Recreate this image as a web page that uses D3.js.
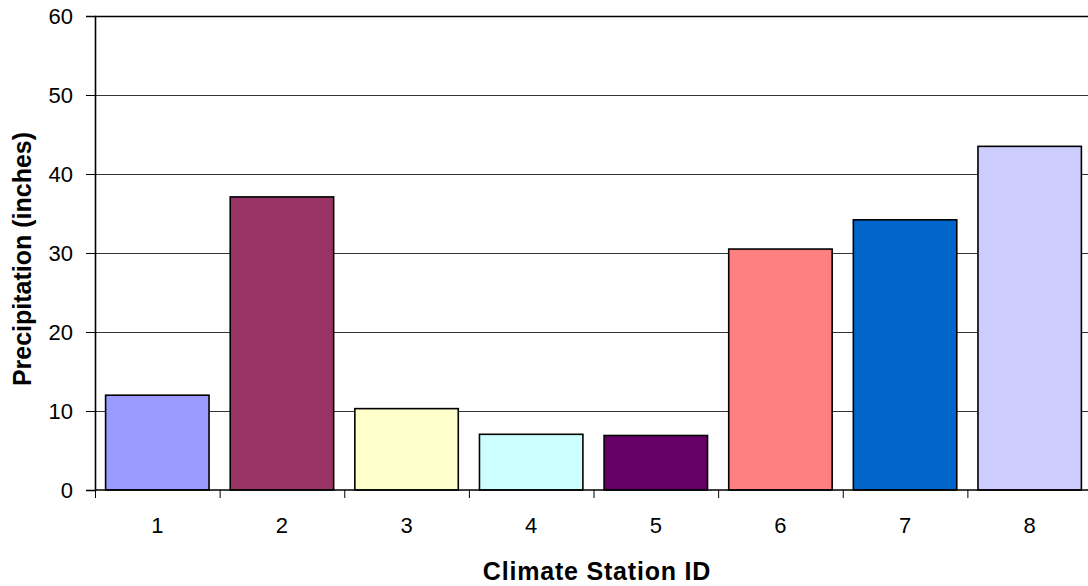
<!DOCTYPE html>
<html><head><meta charset="utf-8">
<script src="https://cdn.jsdelivr.net/npm/d3@7"></script>
<style>body{margin:0;background:#fff}svg{display:block}</style>
</head><body><svg id="c" width="1088" height="586"></svg>
<script>
const categories = ["1","2","3","4","5","6","7","8"];
const values = [12.0, 37.1, 10.3, 7.05, 6.9, 30.5, 34.2, 43.5];
const colors = ["#9999FF","#993366","#FFFFCC","#CCFFFF","#660066","#FF8080","#0066CC","#CCCCFF"];
const yTicks = [0,10,20,30,40,50,60];
const xTitle = "Climate Station ID";
const yTitle = "Precipitation (inches)";

const FONT = "Liberation Sans, Arial, sans-serif";
const svg = d3.select("#c");
const L = 95, R = 1092, T = 16, B = 490;
const x = d3.scaleBand().domain(categories).range([L, R]).paddingInner(0.17).paddingOuter(0.085);
const xb = d3.scaleBand().domain(categories).range([L, R]);
const y = d3.scaleLinear().domain([0, 60]).range([B, T]);

// gridlines
svg.append("g").selectAll("line").data(yTicks.filter(d => d > 0)).join("line")
  .attr("x1", L).attr("x2", R).attr("y1", d => y(d) + 0.5).attr("y2", d => y(d) + 0.5)
  .attr("stroke", d => d === 60 ? "#000" : "#333").attr("stroke-width", d => d === 60 ? 1.5 : 1);

// bars
svg.append("g").selectAll("rect").data(values).join("rect")
  .attr("x", (d, i) => x(categories[i]))
  .attr("width", x.bandwidth())
  .attr("y", d => y(d))
  .attr("height", d => B - y(d))
  .attr("fill", (d, i) => colors[i])
  .attr("stroke", "#000").attr("stroke-width", 1.6);

// y axis
const ya = svg.append("g").attr("transform", `translate(${L},0)`)
  .call(d3.axisLeft(y).tickValues(yTicks).tickSize(9).tickPadding(13));
ya.select(".domain").attr("stroke-width", 1.6);
ya.selectAll("text").attr("font-family", FONT).attr("font-size", 22).attr("fill", "#000");

// x axis
const xa = svg.append("g").attr("transform", `translate(0,${B})`);
xa.append("line").attr("x1", L).attr("x2", R).attr("y1", 0).attr("y2", 0).attr("stroke", "#000").attr("stroke-width", 1.6);
xa.selectAll("line.t").data(categories).join("line").attr("class", "t")
  .attr("x1", d => xb(d) + 0.5).attr("x2", d => xb(d) + 0.5).attr("y1", 0).attr("y2", 8)
  .attr("stroke", "#000").attr("stroke-width", 1);
xa.selectAll("text").data(categories).join("text")
  .attr("x", d => xb(d) + xb.bandwidth() / 2).attr("y", 43)
  .attr("text-anchor", "middle")
  .attr("font-family", FONT).attr("font-size", 22).text(d => d);

svg.append("text").attr("x", 597).attr("y", 580).attr("text-anchor", "middle")
  .attr("font-family", FONT).attr("font-size", 25).attr("font-weight", "bold")
  .attr("letter-spacing", 0.8).text(xTitle);
svg.append("text").attr("transform", "translate(31,259) rotate(-90)").attr("text-anchor", "middle")
  .attr("font-family", FONT).attr("font-size", 25).attr("font-weight", "bold").text(yTitle);
</script></body></html>
